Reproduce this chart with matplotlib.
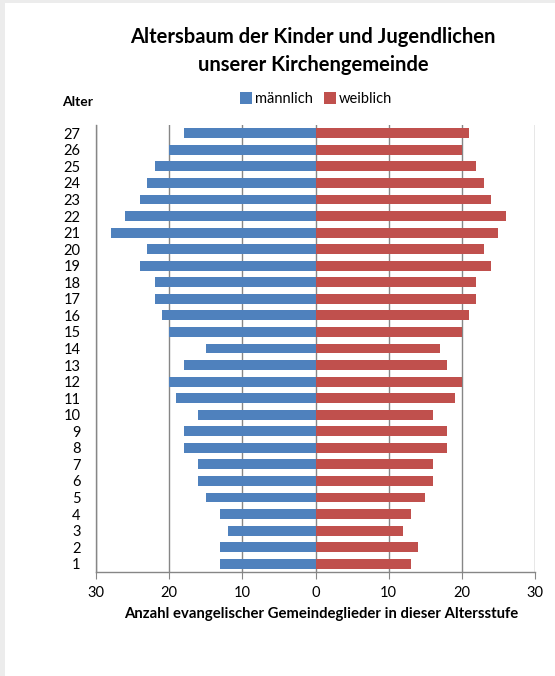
import matplotlib.pyplot as plt
from matplotlib.patches import Rectangle
import numpy as np

plt.rcParams['font.family'] = ['Lato', 'DejaVu Sans']

alter = list(range(1, 28))
maennlich = [13, 13, 12, 13, 15, 16, 16, 18, 18, 16, 19, 20, 18, 15,
             20, 21, 22, 22, 24, 23, 28, 26, 24, 23, 22, 20, 18]
weiblich = [13, 14, 12, 13, 15, 16, 16, 18, 18, 16, 19, 20, 18, 17,
            20, 21, 22, 22, 24, 23, 25, 26, 24, 23, 22, 20, 21]
xticks = [-30, -20, -10, 0, 10, 20, 30]
xticklabels = ['30', '20', '10', '0', '10', '20', '30']

blau = '#4f81bd'
rot = '#c0504d'
grid_col = '#868686'

fig = plt.figure(figsize=(5.55, 6.76), dpi=100)
fig.patch.set_facecolor('#ececec')
# weisse Flaeche, nur oben und links bleibt ein grauer Rand
fig.patches.append(Rectangle((5/555, 0), 1, 1 - 3/676, transform=fig.transFigure,
                             facecolor='white', edgecolor='none', zorder=-10))

ax = fig.add_axes([96/555, 1 - 572/676, (535 - 96)/555, (572 - 125)/676])
ax.set_facecolor('white')

y = np.array(alter)
ax.barh(y, -np.array(maennlich), height=0.6, color=blau, label='männlich', zorder=3)
ax.barh(y, weiblich, height=0.6, color=rot, label='weiblich', zorder=3)

ax.set_xlim(-30, 30)
ax.set_ylim(0.5, 27.5)
ax.set_xticks(xticks)
ax.set_xticklabels(xticklabels, fontsize=10.5)
ax.set_yticks(alter)
ax.set_yticklabels([str(a) for a in alter], fontsize=10.5)
ax.tick_params(axis='y', length=0, pad=11)
ax.tick_params(axis='x', length=5, color=grid_col, direction='out', pad=5)

ax.xaxis.grid(True, color=grid_col, linewidth=1)
ax.set_axisbelow(True)
for s in ['top', 'right']:
    ax.spines[s].set_visible(False)
for s in ['left', 'bottom']:
    ax.spines[s].set_color(grid_col)
    ax.spines[s].set_linewidth(1)

ax.set_xlabel('Anzahl evangelischer Gemeindeglieder in dieser Altersstufe',
              fontsize=10.7, fontweight='bold')
ax.xaxis.set_label_coords(0.512, -0.078)

fig.text(313/555, 1 - 51/676, 'Altersbaum der Kinder und Jugendlichen\nunserer Kirchengemeinde',
         ha='center', va='center', fontsize=14.5, fontweight='bold', linespacing=1.45)
fig.text(62/555, 1 - 102/676, 'Alter', ha='left', va='center',
         fontsize=10, fontweight='bold')

ax.legend(loc='center', bbox_to_anchor=(316/555, 1 - 99/676), bbox_transform=fig.transFigure,
          ncol=2, frameon=False, fontsize=10.5, handlelength=0.8, handleheight=0.8,
          handletextpad=0.2, columnspacing=0.8)

fig.savefig('out.png', dpi=100)
